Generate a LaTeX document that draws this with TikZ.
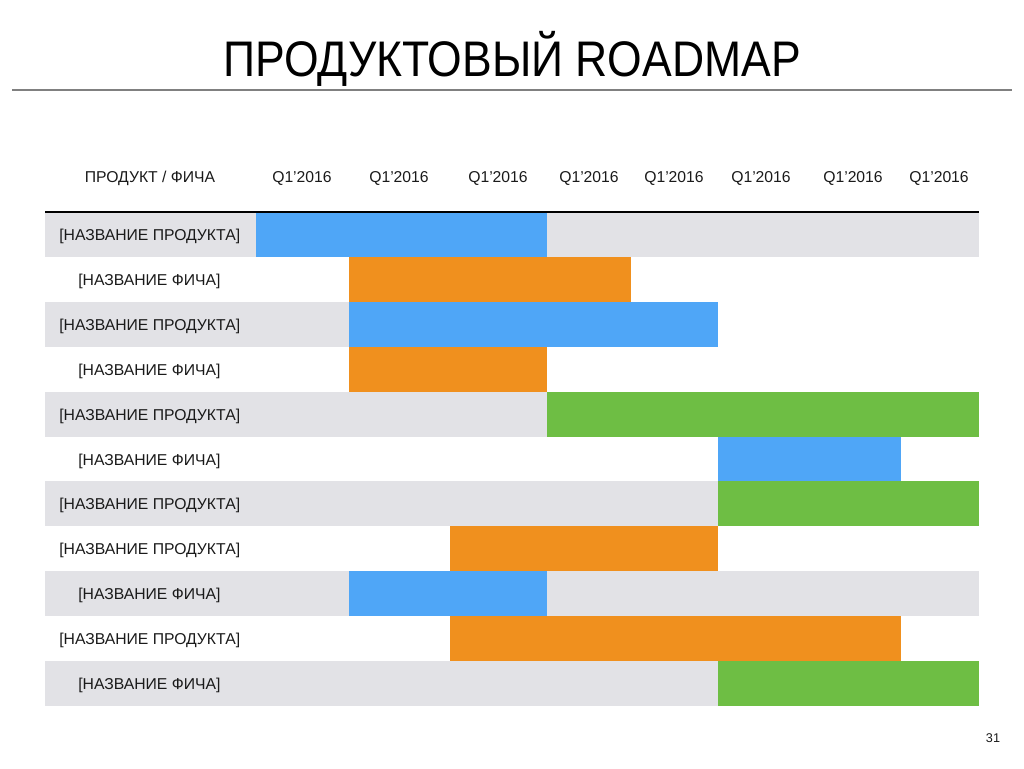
\documentclass[tikz,border=0pt]{standalone}
\usepackage{fontspec}
\setmainfont{Liberation Sans}
\newfontfamily\titlefont[FakeStretch=0.89]{Liberation Sans}
\usepackage{tikz}
\usetikzlibrary{positioning}

\definecolor{barblue}{HTML}{4FA6F7}
\definecolor{barorange}{HTML}{F0901E}
\definecolor{bargreen}{HTML}{6EBE44}
\definecolor{rowgray}{HTML}{E2E2E6}
\definecolor{txtgray}{HTML}{1A1A1A}

\begin{document}
\begin{tikzpicture}[x=0.75pt,y=-0.75pt]
\useasboundingbox (0,0) rectangle (1024,768);
\begin{scope}[every node/.style={inner sep=0pt,text=txtgray,font=\fontsize{11.8}{13}\selectfont},
              prod/.style={anchor=west},
              feat/.style={anchor=west},
              quarter/.style={anchor=center}]
    % title and rule below it
    \node[text=black,font=\titlefont\fontsize{37.5}{40}\selectfont] (title) at (512,59) {ПРОДУКТОВЫЙ ROADMAP};
    \coordinate (TL) at (12,90);
    \coordinate (TR) at (1012,90);
    \draw[gray,line width=0.8pt] (TL) -- (TR);
    % grey row backgrounds
    \fill[rowgray] (45,212) rectangle (979,256.9);
    \fill[rowgray] (45,301.8) rectangle (349,346.7);
    \fill[rowgray] (45,391.6) rectangle (547,436.5);
    \fill[rowgray] (45,481.4) rectangle (718,526.3);
    \fill[rowgray] (45,571.2) rectangle (979,616.1);
    \fill[rowgray] (45,661) rectangle (718,705.9);
    % bars
    \fill[barblue] (256,212) rectangle (547,256.9);
    \fill[barorange] (349,256.9) rectangle (631,301.8);
    \fill[barblue] (349,301.8) rectangle (718,346.7);
    \fill[barorange] (349,346.7) rectangle (547,391.6);
    \fill[bargreen] (547,391.6) rectangle (979,436.5);
    \fill[barblue] (718,436.5) rectangle (901,481.4);
    \fill[bargreen] (718,481.4) rectangle (979,526.3);
    \fill[barorange] (450,526.3) rectangle (718,571.2);
    \fill[barblue] (349,571.2) rectangle (547,616.1);
    \fill[barorange] (450,616.1) rectangle (901,661);
    \fill[bargreen] (718,661) rectangle (979,705.9);
    % header
    \node (head) at (150,178) {ПРОДУКТ / ФИЧА};
    \node[quarter] (q1) at (302,178) {Q1’2016};
    \node[quarter] (q2) at (399,178) {Q1’2016};
    \node[quarter] (q3) at (498,178) {Q1’2016};
    \node[quarter] (q4) at (589,178) {Q1’2016};
    \node[quarter] (q5) at (674,178) {Q1’2016};
    \node[quarter] (q6) at (761,178) {Q1’2016};
    \node[quarter] (q7) at (853,178) {Q1’2016};
    \node[quarter] (q8) at (939,178) {Q1’2016};
    \coordinate (HL) at (45,212);
    \coordinate (HR) at (979,212);
    \draw[black,line width=1.1pt] (HL) -- (HR);
    % row labels
    \node[prod] (r1) at (59,236.5) {[НАЗВАНИЕ ПРОДУКТА]};
    \node[feat] (r2) at (78,281.4) {[НАЗВАНИЕ ФИЧА]};
    \node[prod] (r3) at (59,326.3) {[НАЗВАНИЕ ПРОДУКТА]};
    \node[feat] (r4) at (78,371.2) {[НАЗВАНИЕ ФИЧА]};
    \node[prod] (r5) at (59,416.1) {[НАЗВАНИЕ ПРОДУКТА]};
    \node[feat] (r6) at (78,461) {[НАЗВАНИЕ ФИЧА]};
    \node[prod] (r7) at (59,505.9) {[НАЗВАНИЕ ПРОДУКТА]};
    \node[prod] (r8) at (59,550.8) {[НАЗВАНИЕ ПРОДУКТА]};
    \node[feat] (r9) at (78,595.7) {[НАЗВАНИЕ ФИЧА]};
    \node[prod] (r10) at (59,640.6) {[НАЗВАНИЕ ПРОДУКТА]};
    \node[feat] (r11) at (78,685.5) {[НАЗВАНИЕ ФИЧА]};
    % page number
    \node[font=\fontsize{9.5}{10}\selectfont] (page) at (993,738) {31};
\end{scope}
\end{tikzpicture}
\end{document}
